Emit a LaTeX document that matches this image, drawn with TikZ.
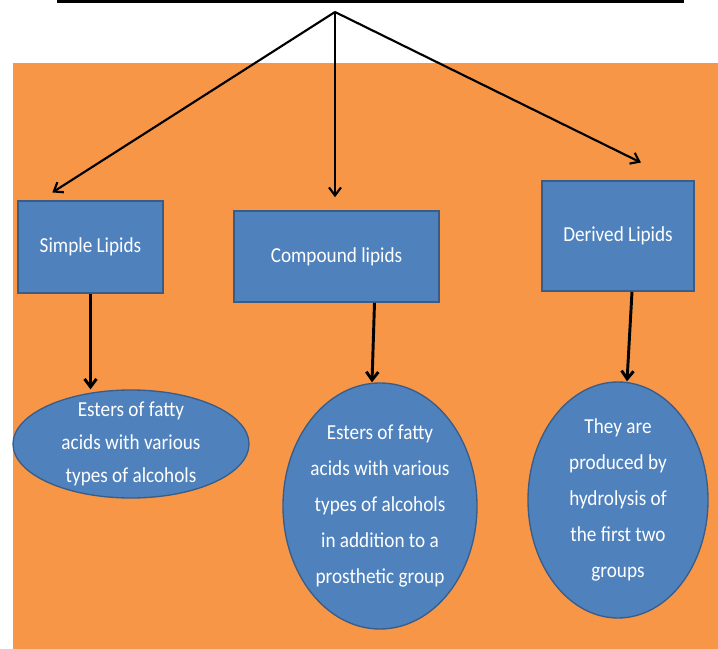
\documentclass[tikz,border=0pt]{standalone}
\usepackage{fontspec}
\setmainfont[FakeStretch=0.9]{Carlito}
\usetikzlibrary{positioning}
\usetikzlibrary{arrows.meta}
\usetikzlibrary{shapes.geometric}
\definecolor{lipidorange}{HTML}{F79646}
\definecolor{lipidblue}{HTML}{4F81BD}
\definecolor{lipidedge}{HTML}{385D8A}
\tikzset{
        every path/.style={thick},
        classbox/.style={rectangle,fill=lipidblue,draw=lipidedge,line width=1.2pt,text=white,font=\fontsize{16}{18}\selectfont,inner sep=0pt},
        leafoval/.style={ellipse,fill=lipidblue,draw=lipidedge,line width=1pt,inner sep=0pt},
        leaftext/.style={align=center,text=white,font=\fontsize{16}{27}\selectfont},
        toparrow/.style={-{Straight Barb[length=6pt,width=9pt]},line width=1.6pt},
        downarrow/.style={-{Straight Barb[length=6pt,width=9pt]},line width=2.2pt},
        }
\begin{document}
\begin{tikzpicture}[x=0.75pt,y=-0.75pt]

		% background...................
		\useasboundingbox (0,0) rectangle (718,649);
		\fill [lipidorange] (13,63) rectangle (718,649);

		% title bar (cut off at top).........
		\fill [black] (57,0) rectangle (684,3.5);
		\coordinate (root) at (335,12);

		% classes......................
		\node [classbox, minimum width=108.75pt, minimum height=69pt] (simple) at (90.5,247) {Simple Lipids};
		\node [classbox, minimum width=153.75pt, minimum height=68.25pt] (compound) at (336.5,256.5) {Compound lipids};
		\node [classbox, minimum width=114pt, minimum height=82.5pt] (derived) at (618,236) {Derived Lipids};

		% descriptions.................
		\node [leafoval, minimum width=177pt, minimum height=81pt] (oval1) at (131,444) {};
		\node [leafoval, minimum width=145.5pt, minimum height=184.5pt] (oval2) at (380,506) {};
		\node [leafoval, minimum width=135pt, minimum height=177pt] (oval3) at (618,500) {};

		\node [leaftext, font=\fontsize{16}{25}\selectfont] (text1) at (oval1) {Esters of fatty\\acids with various\\types of alcohols};
		\node [leaftext] (text2) at (oval2) {Esters of fatty\\acids with various\\types of alcohols\\in addition to a\\prosthetic group};
		\node [leaftext] (text3) at (oval3) {They are\\produced by\\hydrolysis of\\the first two\\groups};

		% arrows from the title..........
		\draw [toparrow, shorten >=10.8pt] (root) -- ([xshift=17.25pt]simple.north west);
		\draw [toparrow, shorten >=9.75pt] (root) -- (root |- compound.north);
		\draw [toparrow, shorten >=30pt] (root) -- ([xshift=-13.5pt]derived.north east);

		% arrows down..................
		\draw [downarrow] (simple.south) -- (simple.south |- oval1.north);
		\draw [downarrow] ([xshift=28.5pt]compound.south) -- ([xshift=-6pt]oval2.north);
		\draw [downarrow] ([xshift=10.5pt]derived.south) -- ([xshift=6.75pt]oval3.north);

	\end{tikzpicture}
\end{document}
